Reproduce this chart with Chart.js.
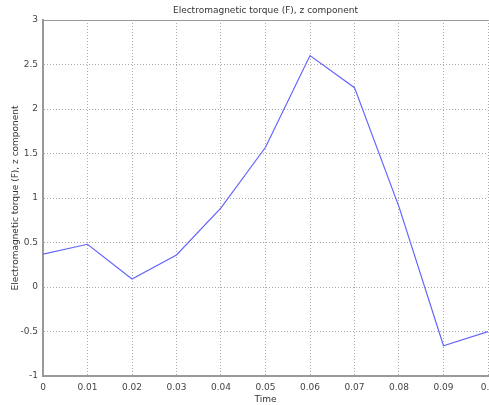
<!DOCTYPE html>
<html>
<head>
<meta charset="utf-8">
<script src="https://cdn.jsdelivr.net/npm/chart.js@4/dist/chart.umd.min.js"></script>
<style>
  html, body { margin: 0; padding: 0; background: #fff; }
  #wrap { width: 489px; height: 405px; }
</style>
</head>
<body>
<div id="wrap"><canvas id="canvas" width="489" height="405"></canvas></div>
<script>
// torque values
var tempos = [0, 0.01, 0.02, 0.03, 0.04, 0.05, 0.06, 0.07, 0.08, 0.09, 0.1];
var torque = [0.37, 0.48, 0.09, 0.36, 0.89, 1.57, 2.6, 2.24, 0.9, -0.66, -0.5];
var titulo = "Electromagnetic torque (F), z component";
var rotuloX = "Time";
var rotuloY = "Electromagnetic torque (F), z component";

var pontos = [];
for (var i = 0; i < tempos.length; i++) {
  pontos.push({x: tempos[i], y: torque[i]});
}

// title centred over the plot area + thin solid line on its top edge
var tituloTopo = {
  id: 'tituloTopo',
  afterDraw: function (chart) {
    var a = chart.chartArea, ctx = chart.ctx;
    ctx.save();
    ctx.strokeStyle = '#999';
    ctx.lineWidth = 1;
    ctx.beginPath();
    ctx.moveTo(a.left, a.top + 0.5);
    ctx.lineTo(a.right, a.top + 0.5);
    ctx.stroke();
    ctx.fillStyle = '#333';
    ctx.font = '9px "DejaVu Sans"';
    ctx.textAlign = 'center';
    ctx.textBaseline = 'middle';
    ctx.fillText(titulo, (a.left + a.right) / 2, 11);
    ctx.restore();
  }
};

var fonte = {family: 'DejaVu Sans', size: 9};

function numero(v) {
  return String(Math.round(v * 100) / 100);
}

new Chart(document.getElementById('canvas').getContext('2d'), {
  type: 'line',
  data: {
    datasets: [{
      data: pontos,
      borderColor: 'rgb(100,100,255)',
      borderWidth: 1.2,
      pointRadius: 0,
      fill: false,
      tension: 0
    }]
  },
  options: {
    responsive: false,
    animation: false,
    layout: {padding: {left: 0, right: 1, top: 20, bottom: 0}},
    plugins: {
      legend: {display: false},
      tooltip: {enabled: false},
      title: {display: false}
    },
    scales: {
      x: {
        type: 'linear',
        min: 0,
        max: 0.1,
        afterFit: function (s) { s.height = 29; s.paddingLeft = 0; s.paddingRight = 0; },
        ticks: {stepSize: 0.01, color: '#444', font: fonte, padding: 6, maxRotation: 0, callback: numero},
        grid: {color: '#aaa', lineWidth: 1, drawTicks: false},
        border: {color: '#999', width: 2, dash: [1, 2]},
        title: {display: true, text: rotuloX, color: '#333', font: fonte, padding: {top: 0, bottom: 0}}
      },
      y: {
        min: -1,
        max: 3,
        afterFit: function (s) { s.width = 43; s.paddingTop = 0; s.paddingBottom = 0; },
        ticks: {stepSize: 0.5, color: '#444', font: fonte, padding: 5, callback: numero},
        grid: {color: '#aaa', lineWidth: 1, drawTicks: false},
        border: {color: '#999', width: 2, dash: [1, 2]},
        title: {display: true, text: rotuloY, color: '#333', font: fonte, padding: {top: 10, bottom: 0}}
      }
    }
  },
  plugins: [tituloTopo]
});
</script>
</body>
</html>
